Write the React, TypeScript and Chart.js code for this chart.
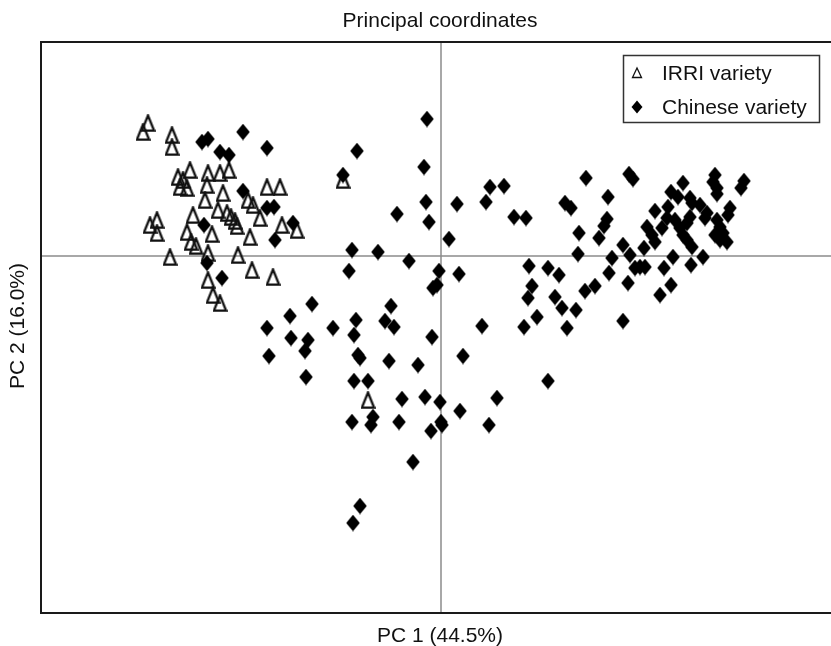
import React, { useEffect, useRef } from "react";
import { Chart, registerables } from "chart.js";

Chart.register(...registerables);

const TITLE = "Principal coordinates";
const X_LABEL = "PC 1 (44.5%)";
const Y_LABEL = "PC 2 (16.0%)";
const SERIES_NAMES = ["IRRI variety", "Chinese variety"];

const X_MIN = -0.4;
const X_MAX = 0.39;
const Y_MIN = -0.357;
const Y_MAX = 0.214;

// IRRI variety (open triangles): [PC1, PC2]
const irriPoints: [number, number][] = [
  [-0.298, 0.124], [-0.293, 0.133], [-0.269, 0.121], [-0.269, 0.109],
  [-0.263, 0.079], [-0.258, 0.076], [-0.251, 0.086], [-0.261, 0.069],
  [-0.254, 0.068], [-0.233, 0.083], [-0.221, 0.083], [-0.212, 0.086],
  [-0.234, 0.071], [-0.218, 0.063], [-0.236, 0.056], [-0.174, 0.069],
  [-0.161, 0.069], [-0.193, 0.056], [-0.188, 0.051], [-0.223, 0.046],
  [-0.214, 0.043], [-0.21, 0.039], [-0.206, 0.035], [-0.204, 0.03],
  [-0.181, 0.038], [-0.248, 0.041], [-0.254, 0.024], [-0.25, 0.014],
  [-0.245, 0.01], [-0.229, 0.022], [-0.191, 0.019], [-0.159, 0.031],
  [-0.144, 0.026], [-0.291, 0.031], [-0.284, 0.036], [-0.284, 0.023],
  [-0.271, -0.001], [-0.233, 0.003], [-0.203, 0.001], [-0.189, -0.014],
  [-0.168, -0.021], [-0.233, -0.024], [-0.228, -0.039], [-0.221, -0.047],
  [-0.098, 0.076], [-0.073, -0.144],
];

// Chinese variety (filled diamonds): [PC1, PC2]
const chinesePoints: [number, number][] = [
  // left group
  [-0.198, 0.124], [-0.239, 0.114], [-0.233, 0.117], [-0.221, 0.104],
  [-0.212, 0.101], [-0.174, 0.108], [-0.198, 0.065], [-0.174, 0.048],
  [-0.167, 0.049], [-0.148, 0.033], [-0.166, 0.016], [-0.237, 0.031],
  [-0.234, -0.007], [-0.219, -0.022], [-0.129, -0.048], [-0.151, -0.06],
  // middle
  [-0.014, 0.137], [-0.084, 0.105], [-0.098, 0.081], [-0.017, 0.089],
  [0.049, 0.069], [0.063, 0.07], [0.045, 0.054], [-0.015, 0.054],
  [0.016, 0.052], [0.073, 0.039], [0.085, 0.038], [-0.044, 0.042],
  [-0.012, 0.034], [0.008, 0.017], [-0.089, 0.006], [-0.063, 0.004],
  [-0.032, -0.005], [-0.092, -0.015], [-0.002, -0.015], [0.018, -0.018],
  [-0.008, -0.032], [-0.004, -0.029],
  // lower
  [-0.174, -0.072], [-0.15, -0.082], [-0.133, -0.084], [-0.136, -0.095],
  [-0.172, -0.1], [-0.135, -0.121], [-0.108, -0.072], [-0.085, -0.064],
  [-0.087, -0.079], [-0.083, -0.099], [-0.081, -0.102], [-0.05, -0.05],
  [-0.056, -0.065], [-0.047, -0.071], [-0.052, -0.105], [-0.023, -0.109],
  [-0.009, -0.081], [0.041, -0.07], [0.022, -0.1], [-0.087, -0.125],
  [-0.073, -0.125], [-0.039, -0.143], [-0.016, -0.141], [-0.001, -0.146],
  [0.019, -0.155], [0.056, -0.142], [-0.089, -0.166], [-0.068, -0.161],
  [-0.07, -0.169], [-0.042, -0.166], [0.0, -0.166], [0.001, -0.169],
  [-0.01, -0.175], [0.048, -0.169], [-0.028, -0.206], [-0.081, -0.25],
  [-0.088, -0.267], [0.107, -0.125],
  // right group
  [0.145, 0.078], [0.188, 0.082], [0.192, 0.077], [0.124, 0.053],
  [0.13, 0.048], [0.167, 0.059], [0.166, 0.037], [0.163, 0.03],
  [0.158, 0.018], [0.138, 0.023], [0.137, 0.002], [0.088, -0.01],
  [0.107, -0.012], [0.118, -0.019], [0.091, -0.03], [0.087, -0.042],
  [0.114, -0.041], [0.121, -0.052], [0.096, -0.061], [0.083, -0.071],
  [0.135, -0.054], [0.126, -0.072], [0.144, -0.035], [0.154, -0.03],
  [0.168, -0.017], [0.171, -0.002], [0.182, 0.011], [0.189, 0.001],
  [0.187, -0.027], [0.182, -0.065], [0.194, -0.012], [0.199, -0.011],
  [0.204, -0.011], [0.203, 0.008], [0.206, 0.029], [0.211, 0.021],
  [0.214, 0.014], [0.214, 0.045], [0.223, -0.012], [0.219, -0.039],
  [0.23, -0.029], [0.232, -0.001], [0.221, 0.028], [0.226, 0.038],
  [0.227, 0.049], [0.23, 0.064], [0.242, 0.073], [0.237, 0.059],
  [0.234, 0.036], [0.239, 0.028], [0.242, 0.021], [0.246, 0.016],
  [0.251, 0.009], [0.249, 0.058], [0.251, 0.053], [0.249, 0.039],
  [0.246, 0.033], [0.25, -0.009], [0.262, -0.001], [0.259, 0.051],
  [0.266, 0.043], [0.264, 0.038], [0.274, 0.081], [0.272, 0.074],
  [0.276, 0.068], [0.276, 0.062], [0.276, 0.036], [0.279, 0.029],
  [0.282, 0.023], [0.274, 0.021], [0.279, 0.016], [0.286, 0.014],
  [0.289, 0.048], [0.287, 0.041], [0.3, 0.068], [0.303, 0.075],
];

const FONT = '"Liberation Sans", Arial, Helvetica, sans-serif';

function makeTriangle(w: number, h: number, lw: number): HTMLCanvasElement {
  const c = document.createElement("canvas");
  c.width = w;
  c.height = h;
  const g = c.getContext("2d")!;
  g.strokeStyle = "#111";
  g.lineWidth = lw;
  g.lineJoin = "miter";
  g.beginPath();
  g.moveTo(w / 2, lw / 2 + 0.3);
  g.lineTo(w - lw / 2 - 0.3, h - lw / 2 - 0.3);
  g.lineTo(lw / 2 + 0.3, h - lw / 2 - 0.3);
  g.closePath();
  g.stroke();
  return c;
}

function makeDiamond(w: number, h: number): HTMLCanvasElement {
  const c = document.createElement("canvas");
  c.width = w;
  c.height = h;
  const g = c.getContext("2d")!;
  g.fillStyle = "#000";
  g.beginPath();
  g.moveTo(w / 2, 0.2);
  g.lineTo(w - 0.2, h / 2);
  g.lineTo(w / 2, h - 0.2);
  g.lineTo(0.2, h / 2);
  g.closePath();
  g.fill();
  return c;
}

const decorPlugin = {
  id: "decor",
  beforeDatasetsDraw(chart: any) {
    const { ctx, chartArea: a, scales } = chart;
    const x0 = scales.x.getPixelForValue(0);
    const y0 = scales.y.getPixelForValue(0);
    ctx.save();
    ctx.strokeStyle = "#8c8c8c";
    ctx.lineWidth = 1.5;
    ctx.beginPath();
    ctx.moveTo(x0, a.top);
    ctx.lineTo(x0, a.bottom);
    ctx.moveTo(a.left, y0);
    ctx.lineTo(a.right, y0);
    ctx.stroke();
    ctx.restore();
  },
  afterDatasetsDraw(chart: any) {
    const { ctx, chartArea: a } = chart;
    ctx.save();
    // frame (right side lies beyond the canvas)
    ctx.strokeStyle = "#1a1a1a";
    ctx.lineWidth = 2;
    ctx.beginPath();
    ctx.moveTo(a.right + 2, a.top);
    ctx.lineTo(a.left, a.top);
    ctx.lineTo(a.left, a.bottom);
    ctx.lineTo(a.right + 2, a.bottom);
    ctx.stroke();

    // legend box
    const lx = 623.5, ly = 55.5, lw = 196, lh = 67;
    ctx.fillStyle = "#fff";
    ctx.fillRect(lx, ly, lw, lh);
    ctx.strokeStyle = "#333";
    ctx.lineWidth = 1.5;
    ctx.strokeRect(lx, ly, lw, lh);

    // legend symbols
    ctx.strokeStyle = "#111";
    ctx.lineWidth = 1.3;
    ctx.beginPath();
    ctx.moveTo(637, 68);
    ctx.lineTo(641.5, 77.5);
    ctx.lineTo(632.5, 77.5);
    ctx.closePath();
    ctx.stroke();

    ctx.fillStyle = "#000";
    ctx.beginPath();
    ctx.moveTo(637, 100.5);
    ctx.lineTo(642.5, 107);
    ctx.lineTo(637, 113.5);
    ctx.lineTo(631.5, 107);
    ctx.closePath();
    ctx.fill();

    ctx.fillStyle = "#111";
    ctx.font = `21px ${FONT}`;
    ctx.textAlign = "left";
    ctx.textBaseline = "middle";
    ctx.fillText(SERIES_NAMES[0], 662, 74);
    ctx.fillText(SERIES_NAMES[1], 662, 108);
    ctx.restore();
  },
  afterDraw(chart: any) {
    const { ctx } = chart;
    ctx.save();
    ctx.fillStyle = "#111";
    ctx.font = `21px ${FONT}`;
    ctx.textAlign = "center";
    ctx.textBaseline = "middle";
    ctx.fillText(TITLE, 440, 21);
    ctx.fillText(X_LABEL, 440, 636);
    ctx.translate(18, 326);
    ctx.rotate(-Math.PI / 2);
    ctx.fillText(Y_LABEL, 0, 0);
    ctx.restore();
  },
};

export default function App() {
  const ref = useRef<HTMLCanvasElement | null>(null);

  useEffect(() => {
    if (!ref.current) return;
    const tri = makeTriangle(15, 18, 2.3);
    const dia = makeDiamond(14, 17);
    const chart = new Chart(ref.current, {
      type: "scatter",
      data: {
        datasets: [
          {
            label: SERIES_NAMES[0],
            data: irriPoints.map(([x, y]) => ({ x, y })),
            pointStyle: tri as any,
            pointRadius: 9,
            order: 2,
          },
          {
            label: SERIES_NAMES[1],
            data: chinesePoints.map(([x, y]) => ({ x, y })),
            pointStyle: dia as any,
            pointRadius: 9,
            order: 1,
          },
        ],
      },
      options: {
        animation: false,
        responsive: false,
        devicePixelRatio: 1,
        layout: {
          autoPadding: false,
          padding: { left: 41, top: 42, right: 0, bottom: 33 },
        },
        scales: {
          x: { type: "linear", min: X_MIN, max: X_MAX, display: false },
          y: { type: "linear", min: Y_MIN, max: Y_MAX, display: false },
        },
        plugins: {
          legend: { display: false },
          tooltip: { enabled: false },
          title: { display: false },
        },
      },
      plugins: [decorPlugin],
    });
    return () => chart.destroy();
  }, []);

  return (
    <div
      style={{
        position: "fixed",
        left: 0,
        top: 0,
        width: 831,
        height: 646,
        background: "#fff",
      }}
    >
      <canvas ref={ref} width={831} height={646} />
    </div>
  );
}
